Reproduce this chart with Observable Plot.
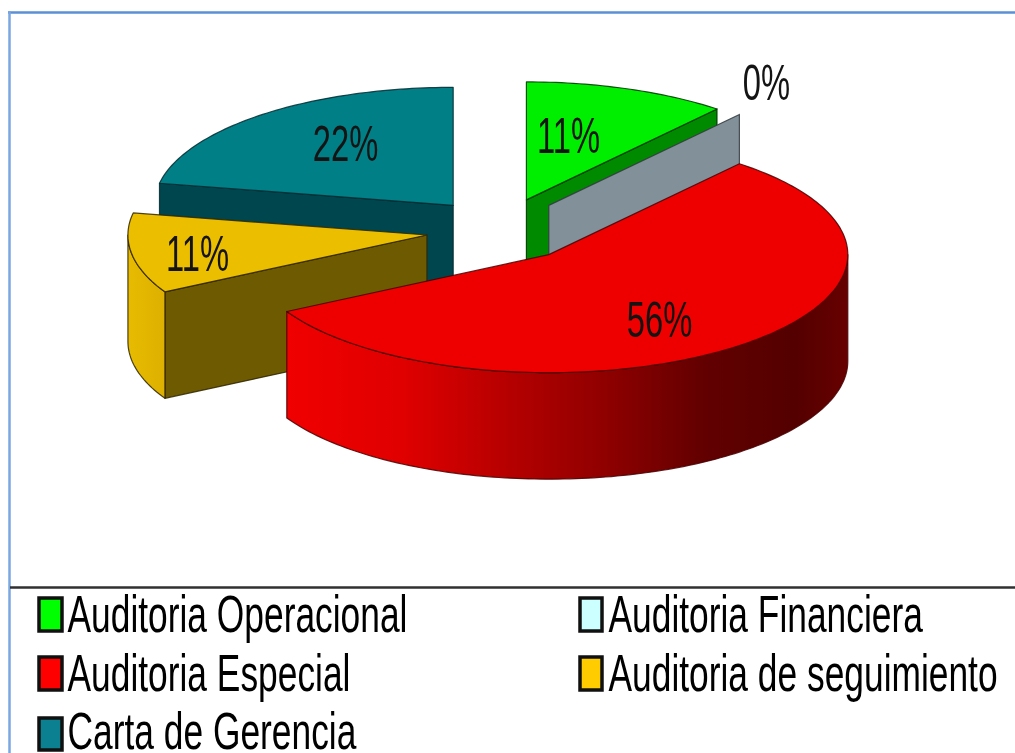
<!DOCTYPE html>
<html>
<head>
<meta charset="utf-8">
<script src="https://cdn.jsdelivr.net/npm/d3@7"></script>
<script src="https://cdn.jsdelivr.net/npm/@observablehq/plot@0.6"></script>
<style>
html,body{margin:0;padding:0;background:#fff;overflow:hidden}
svg{display:block;filter:blur(0.55px)}
</style>
</head>
<body>
<div id="chart"></div>
<script>
// ---- data ----
const categories = ["Auditoria Operacional","Auditoria Financiera","Auditoria Especial","Auditoria de seguimiento","Carta de Gerencia"];
const values = [11, 0, 56, 11, 22];
const labels = ["11%","0%","56%","11%","22%"];

// ---- styles ----
const legendFill = ["#00ff00","#ccffff","#ff0000","#ffcc00","#0a8090"];
const topFill    = ["#00ee00","#8a96a0","#ee0000","#ecbe00","#007f86"];
const cutFill    = ["#008a00","#82909a","#b00000","#6e5a00","#00464e"];
const edgeColor  = ["#003000","#30383c","#4a0000","#2e2500","#002a30"];

// ---- layout ----
const W = 1015, H = 753;
const centre = {x: 500.5, y: 229.5}, rx = 299, ry = 118, depth = 106.5, explodeX = 75, explodeY = 32;
const labelAt = [[568,136],[766,83],[659,320],[197,254],[345,144]];
const legendCell = [[39,62,598,631],[580,602,598,631],[39,62,657,690],[580,602,657,690],[39,62,718,750]];
const legendOrder = [0,1,2,3,4];
const legendText = [[67,631],[608,631],[67,690],[608,690],[67,748]];

// ---- geometry of each slice, from the values ----
const total = d3.sum(values);
let acc = 0;
const slices = values.map((v, i) => {
  const a0 = acc / total * 2 * Math.PI; acc += v;
  const a1 = acc / total * 2 * Math.PI;
  const mid = (a0 + a1) / 2;
  return {i, a0, a1,
    cx: centre.x + explodeX * Math.sin(mid),
    cy: centre.y - explodeY * Math.cos(mid)};
});
const onRim = (s, a, d = 0) => ({x: s.cx + rx * Math.sin(a), y: s.cy - ry * Math.cos(a) + d});
const apex = (s, d = 0) => ({x: s.cx, y: s.cy + d});
const arc = (s, a0, a1, d = 0) => {
  const n = Math.max(1, Math.ceil(Math.abs(a1 - a0) / 0.02));
  return d3.range(n + 1).map(k => onRim(s, a0 + (a1 - a0) * k / n, d));
};
const closed = pts => [...pts, pts[0]];
const poly = (pts, fill, stroke, sw = 1.2) =>
  Plot.line(closed(pts), {x: "x", y: "y", fill, stroke, strokeWidth: sw, curve: "linear", strokeOpacity: 0.85});

const topFace = s => poly([apex(s), ...arc(s, s.a0, s.a1)], topFill[s.i], edgeColor[s.i]);
const cutFace = (s, a, fill) => poly([onRim(s, a), apex(s), apex(s, depth), onRim(s, a, depth)], fill || cutFill[s.i], edgeColor[s.i]);
const rimFace = (s, a0, a1, fill) => poly([...arc(s, a0, a1), ...arc(s, a1, a0, depth)], fill, edgeColor[s.i]);

const [green, gray, red, yellow, teal] = slices;
const deg = Math.PI / 180;

const marks = [
  // frame of the picture
  Plot.ruleY([12], {x1: 8, x2: W, stroke: "#5b8fd6", strokeWidth: 2.5}),
  Plot.ruleX([9], {y1: 11, y2: H, stroke: "#7aa6e2", strokeWidth: 2.5}),
  Plot.ruleY([587], {x1: 10, x2: W, stroke: "#303030", strokeWidth: 2.5}),
  // back to front
  cutFace(teal, teal.a0),
  topFace(teal),
  cutFace(yellow, yellow.a0),
  rimFace(yellow, yellow.a0, 270 * deg, "url(#yellowRim)"),
  topFace(yellow),
  cutFace(green, green.a1),
  topFace(green),
  cutFace(gray, gray.a1),
  rimFace(red, 90 * deg, red.a1, "url(#redRim)"),
  topFace(red),
  // percentage labels
  Plot.text(labels, {
    x: (d, i) => labelAt[i][0], y: (d, i) => labelAt[i][1],
    text: d => d, fontSize: 50, fontFamily: "Liberation Sans", fill: "#141414",
    textAnchor: "middle", lineAnchor: "middle", className: "squeezeLabel"
  }),
  // legend
  Plot.rect(legendOrder, {
    x1: i => legendCell[i][0], x2: i => legendCell[i][1],
    y1: i => legendCell[i][2], y2: i => legendCell[i][3],
    fill: i => legendFill[i], stroke: "#101010", strokeWidth: 3.5
  }),
  Plot.text(legendOrder, {
    x: i => legendText[i][0], y: i => legendText[i][1],
    text: i => categories[i], fontSize: 52, fontFamily: "Liberation Sans", fill: "#000",
    textAnchor: "start", lineAnchor: "bottom", className: "squeezeLegend"
  })
];

const svg = Plot.plot({
  width: W, height: H, margin: 0,
  x: {domain: [0, W], range: [0, W], axis: null},
  y: {domain: [0, H], range: [0, H], axis: null},
  color: {type: "identity"},
  style: {background: "#fff"},
  marks
});

// gradients for the curved walls
const defs = d3.select(svg).insert("defs", ":first-child");
const grad = (id, x1, x2, stops) => {
  const g = defs.append("linearGradient").attr("id", id).attr("gradientUnits", "userSpaceOnUse")
    .attr("x1", x1).attr("x2", x2).attr("y1", 0).attr("y2", 0);
  stops.forEach(([o, c]) => g.append("stop").attr("offset", o).attr("stop-color", c));
};
grad("redRim", 289, 850, [[0,"#f00000"],[0.2,"#e00000"],[0.38,"#b80000"],[0.56,"#900000"],[0.74,"#620000"],[0.9,"#540000"],[1,"#680000"]]);
grad("yellowRim", 125, 170, [[0,"#e8bc00"],[1,"#dcae00"]]);

// the reference's text is narrow: the picture was stretched upward
const squeeze = (cls, k) => svg.querySelectorAll("." + cls + " text").forEach(t => {
  t.setAttribute("transform", (t.getAttribute("transform") || "") + ` scale(${k},1)`);
});
squeeze("squeezeLabel", 0.655);
squeeze("squeezeLegend", 0.68);

document.getElementById("chart").append(svg);
</script>
</body>
</html>
